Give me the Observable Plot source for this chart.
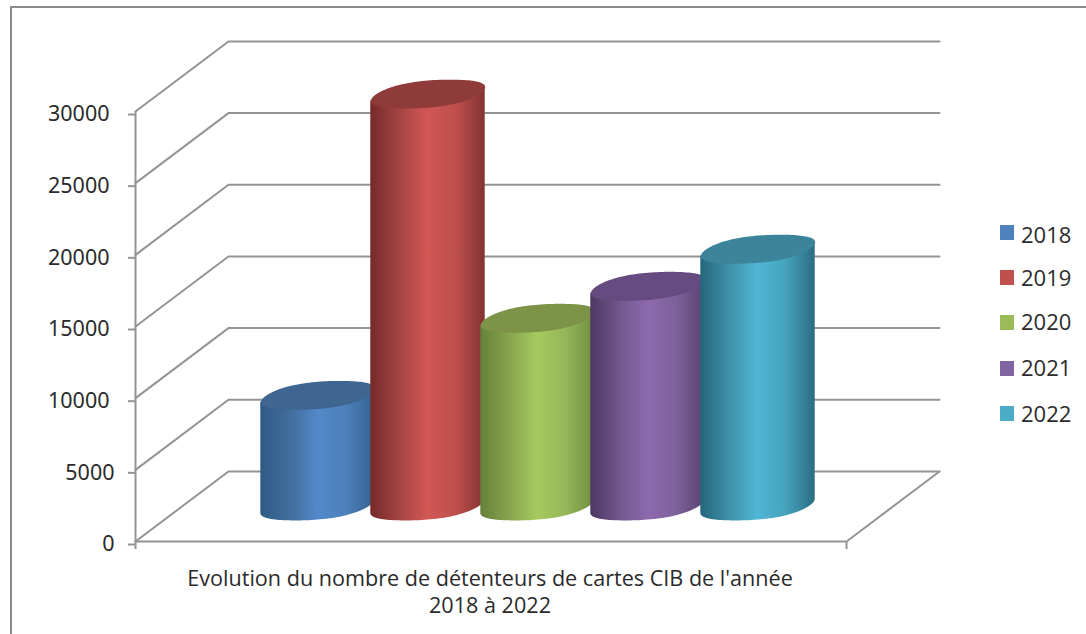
<!DOCTYPE html>
<html lang="fr">
<head>
<meta charset="utf-8">
<title>Détenteurs de cartes CIB</title>
<script src="https://cdn.jsdelivr.net/npm/d3@7"></script>
<script src="https://cdn.jsdelivr.net/npm/@observablehq/plot@0.6"></script>
<style>
  html, body { margin: 0; background: #fff; }
  #chart { position: relative; width: 1086px; height: 634px; overflow: hidden; font-family: "Open Sans", sans-serif; color: #2b2b2b; }
  #chart svg { position: absolute; left: 0; top: 0; }
  #frame { position: absolute; left: 10px; top: 6px; right: -4px; bottom: -4px; border-left: 2px solid #8c8c8c; border-top: 2px solid #8c8c8c; }
  #caption { position: absolute; left: 90px; width: 800px; top: 564px; text-align: center; font-size: 21.6px; line-height: 27px; }
  .swatch { position: absolute; left: 999.5px; width: 14px; height: 15px; }
  .key { position: absolute; left: 1021px; height: 20px; line-height: 20px; font-size: 22px; }
</style>
</head>
<body>
<div id="chart">
  <div id="frame"></div>
  <div id="caption">Evolution du nombre de détenteurs de cartes CIB de l'année<br>2018 à 2022</div>
</div>
<script>
// Card holders per year
const years = [2018, 2019, 2020, 2021, 2022];
const holders = [7750, 28770, 13130, 15360, 17950];

// Series colours: legend swatch, top face, cylinder side (edge, shoulder, highlight, shoulder, edge)
const swatches = ["#4f81bd", "#c0504d", "#9bbb59", "#8064a2", "#4bacc6"];
const capColors = ["#3f6591", "#8e3b3a", "#7d9348", "#664b80", "#3c8499"];
const sideStops = [
  ["#2f5a86", "#436f9f", "#5289c9", "#4d80bb", "#34618f"],
  ["#742a2a", "#a94645", "#d25755", "#bd4f4d", "#843231"],
  ["#66803a", "#8aa94f", "#a6ca60", "#94b657", "#6f8c3e"],
  ["#4c3862", "#75598f", "#8d69ae", "#7e619c", "#5a4270"],
  ["#25667c", "#4195ae", "#50b7d4", "#45a2bc", "#2a6c82"]
];
const tickValues = [0, 5000, 10000, 15000, 20000, 25000, 30000];
const shortTicks = [0, 5000];
const longTicks = [10000, 15000, 20000, 25000, 30000];
const swatchTops = [225, 270, 315, 361, 406];
const keyTops = [224, 267, 311, 357, 403];

// Oblique projection of the box: depth shifts along both scales
const depthX = 0.845;
const depthY = 4888;
const floorLeft = 2018 - 1.659;
const floorRight = 2022 + 0.805;

// Cylinder proportions in scale units
const radiusX = 0.52;
const radiusY = 950;
const tiltNear = 320;
const tiltTip = 170;
const baseline = depthY / 2;
const angles = d3.range(0, 121).map((i) => (i / 120) * 2 * Math.PI);
const halfAngles = d3.range(0, 61).map((i) => Math.PI - (i / 60) * Math.PI);

// Vertical offset of the slanted rim, strongest at its left and right tips
const slant = (t) => tiltNear * Math.cos(t) + tiltTip * Math.cos(t) ** 3;

const wallLines = tickValues.flatMap((v) => [
  {v, x: floorLeft, y: v},
  {v, x: floorLeft + depthX, y: v + depthY},
  {v, x: floorRight + depthX, y: v + depthY}
]);
const floorEdge = [
  {x: floorLeft, y: 0},
  {x: floorRight, y: 0},
  {x: floorRight + depthX, y: depthY}
];

function gradients() {
  const defs = d3.create("svg:defs");
  years.forEach((year, i) => {
    const g = defs.append("linearGradient").attr("id", `side${year}`);
    [0, 0.28, 0.5, 0.75, 1].forEach((offset, j) => {
      g.append("stop").attr("offset", offset).attr("stop-color", sideStops[i][j]);
    });
  });
  return defs.node();
}

function cylinder(year, i) {
  const top = baseline + holders[i];
  const side = halfAngles.map((t) => ({
    x: year + radiusX * Math.cos(t),
    y1: baseline + slant(t) - radiusY * Math.sin(t),
    y2: top + slant(t)
  }));
  const cap = angles.map((t) => ({
    x: year + radiusX * Math.cos(t),
    y: top + slant(t) + radiusY * Math.sin(t)
  }));
  return [
    Plot.areaY(side, {x: "x", y1: "y1", y2: "y2", fill: `url(#side${year})`, curve: "linear"}),
    Plot.line(cap, {x: "x", y: "y", fill: capColors[i], stroke: "none", curve: "linear"})
  ];
}

const gray = "#949494";
const axisStyle = {
  tickFormat: "d",
  tickSize: 7,
  stroke: gray,
  strokeWidth: 2,
  fontSize: 21.5,
  fill: "#2b2b2b",
  dy: 3,
  label: null
};

const plot = Plot.plot({
  width: 1086,
  height: 634,
  marginLeft: 135,
  marginTop: 111,
  marginBottom: 93,
  marginRight: 240,
  style: {background: "transparent", overflow: "visible"},
  x: {domain: [2018, 2022], range: [317.5, 757.5]},
  y: {domain: [0, 30000], range: [541, 111]},
  marks: [
    gradients,
    Plot.line(wallLines, {x: "x", y: "y", z: "v", stroke: gray, strokeWidth: 2, curve: "linear"}),
    Plot.line(floorEdge, {x: "x", y: "y", stroke: gray, strokeWidth: 2, curve: "linear"}),
    Plot.ruleX([floorLeft], {y1: 0, y2: 30000, stroke: gray, strokeWidth: 2}),
    Plot.axisY({...axisStyle, ticks: longTicks, tickPadding: 19}),
    Plot.axisY({...axisStyle, ticks: shortTicks, tickPadding: 14}),
    Plot.axisX({
      ticks: [floorLeft, floorRight],
      tickFormat: () => "",
      tickSize: 8,
      stroke: gray,
      strokeWidth: 2,
      label: null
    }),
    ...years.flatMap(cylinder)
  ]
});
const chart = document.getElementById("chart");
chart.appendChild(plot);

// Legend to the right of the box
years.forEach((year, i) => {
  const swatch = document.createElement("div");
  swatch.className = "swatch";
  swatch.style.top = `${swatchTops[i]}px`;
  swatch.style.background = swatches[i];
  const key = document.createElement("div");
  key.className = "key";
  key.style.top = `${keyTops[i]}px`;
  key.textContent = year;
  chart.append(swatch, key);
});
</script>
</body>
</html>
